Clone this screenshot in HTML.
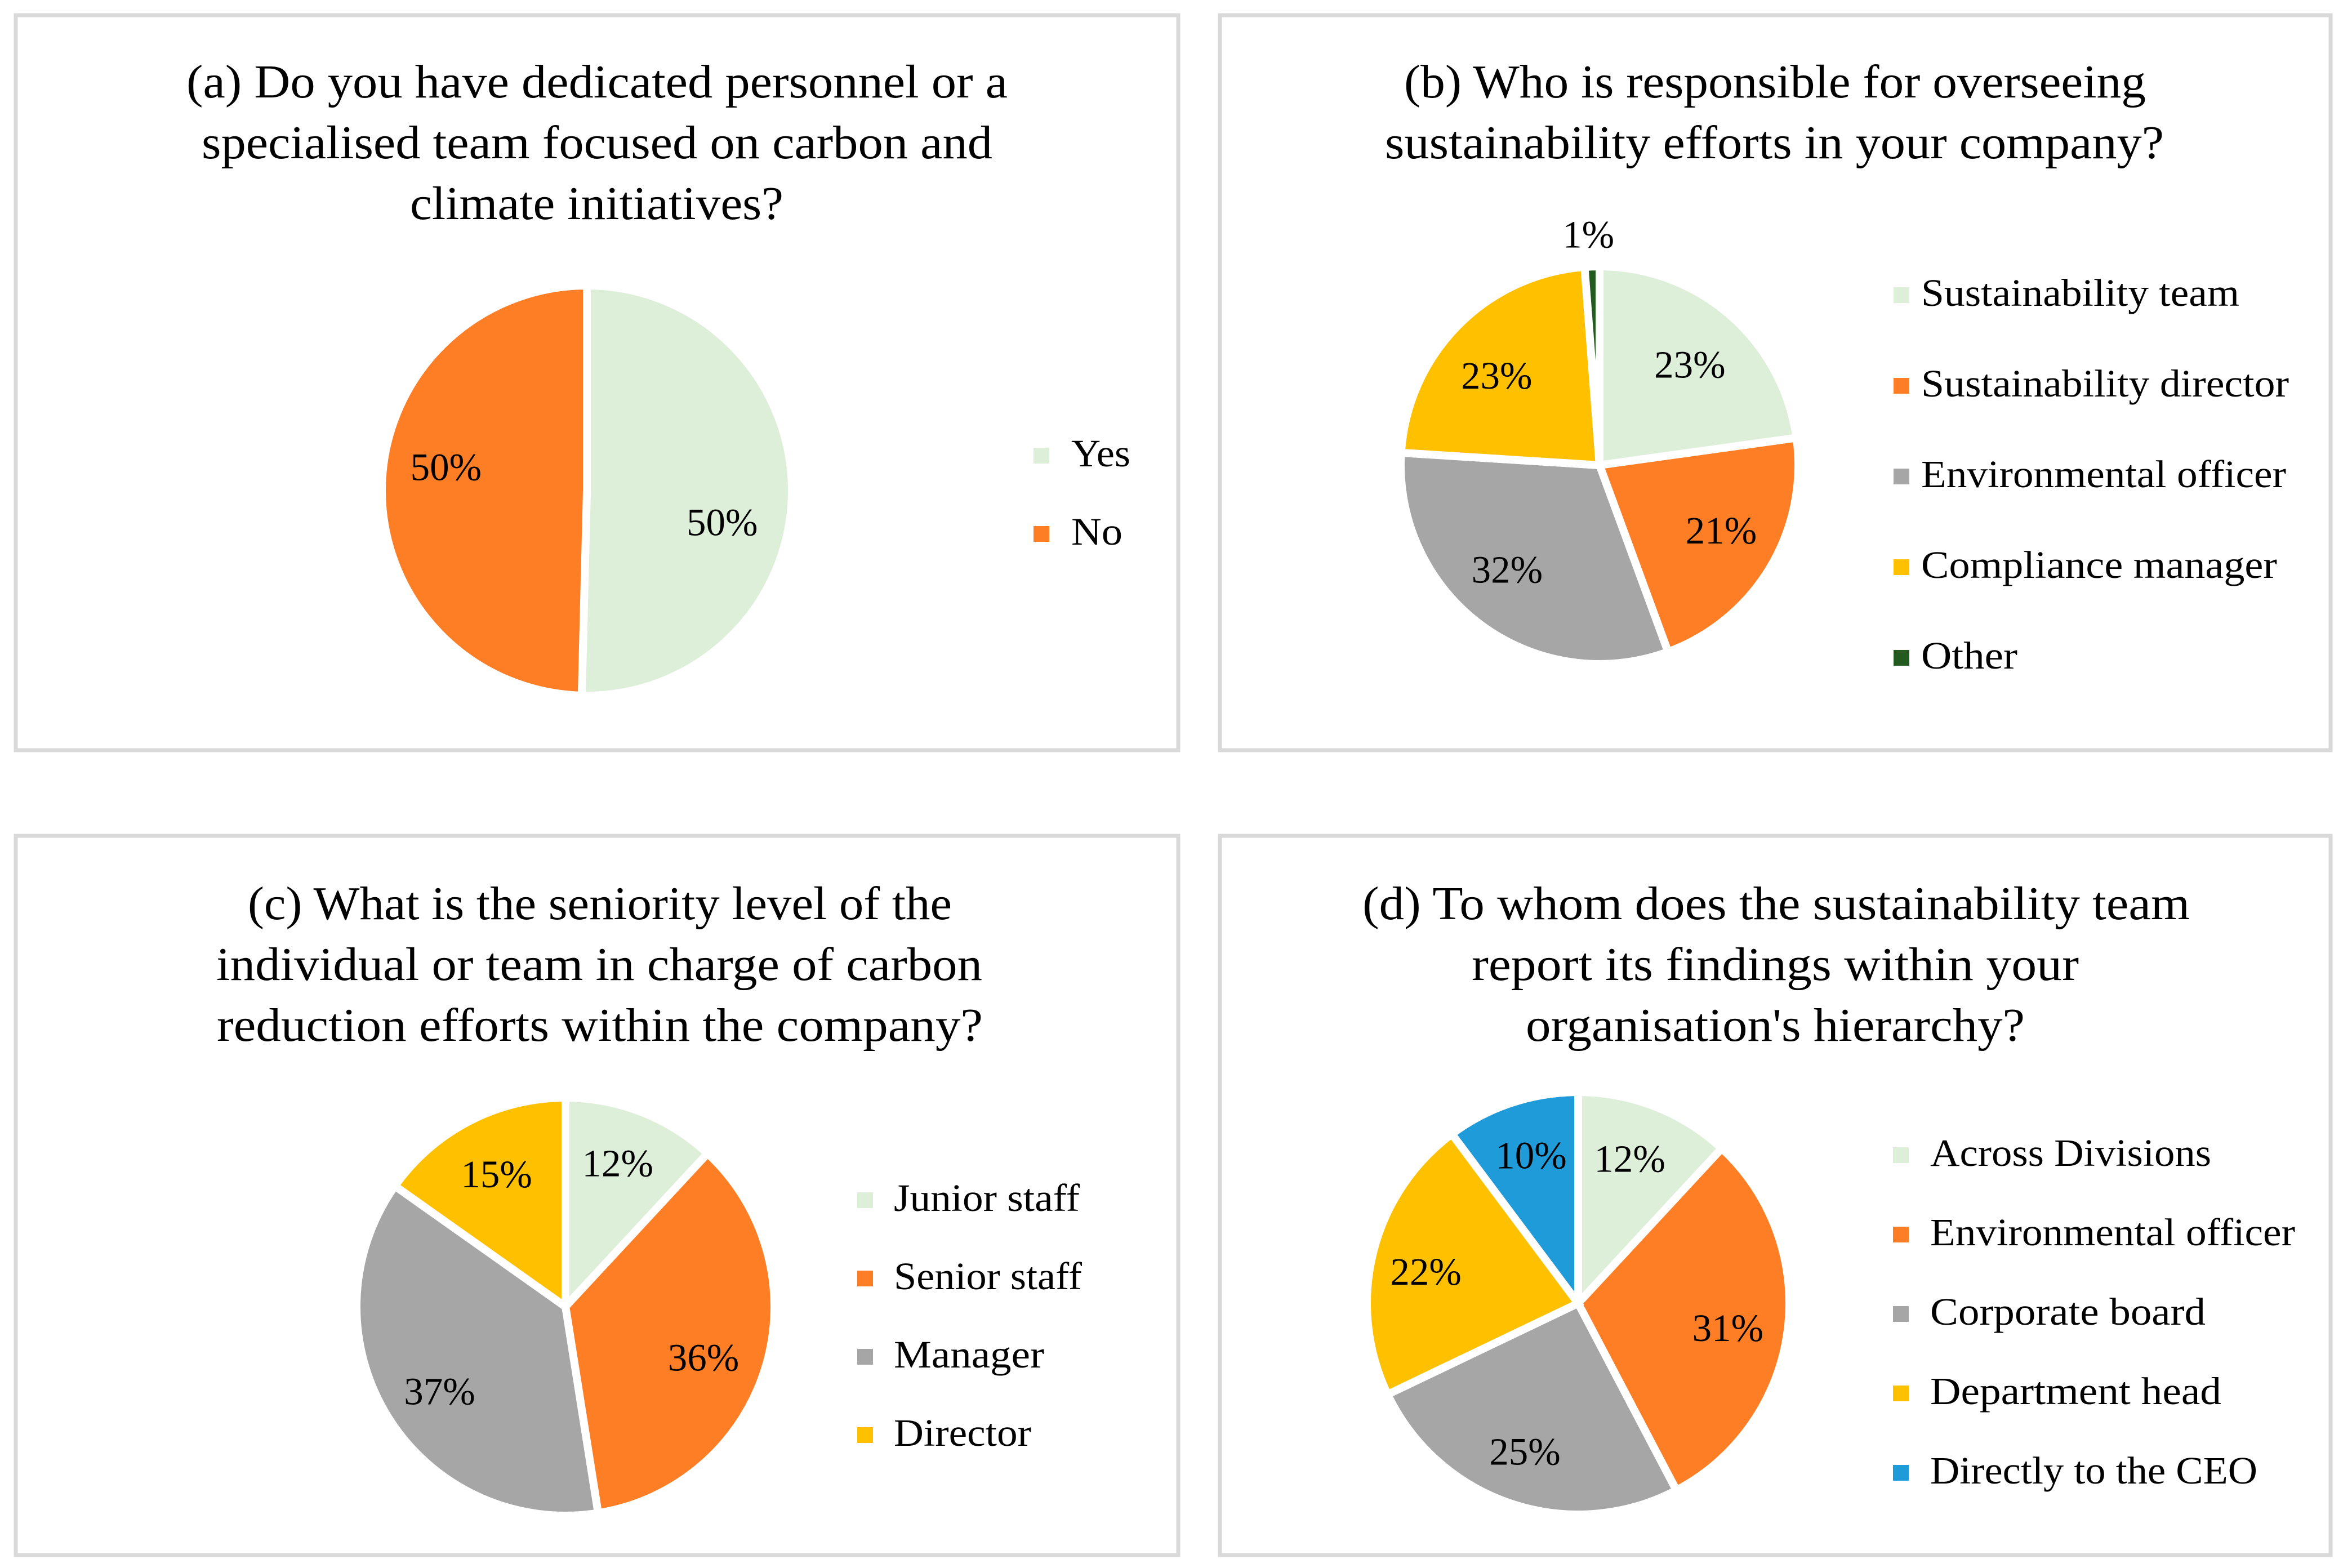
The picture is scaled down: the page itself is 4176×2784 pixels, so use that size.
<!DOCTYPE html>
<html lang="en">
<head>
<meta charset="utf-8">
<title>Carbon and sustainability governance survey</title>
<style>
html,body{margin:0;padding:0;background:#fff;}
svg{display:block;}
text{font-family:"Liberation Serif",serif;fill:#000;}
.title{font-size:84px;}
.legend-text,.pct{font-size:69px;}
.pct{text-anchor:middle;}
.panel{fill:#fff;stroke:#d9d9d9;stroke-width:7;}
</style>
</head>
<body>
<svg id="fig" xmlns="http://www.w3.org/2000/svg" width="4176" height="2784" viewBox="0 0 4176 2784">
  <rect width="4176" height="2784" fill="#fff"/>

  <g id="panel-a">
    <rect class="panel" x="28" y="27" width="2064" height="1305"/>
    <g>
      <text class="title" x="331" y="173" textLength="1458" lengthAdjust="spacingAndGlyphs">(a) Do you have dedicated personnel or a</text>
      <text class="title" x="358" y="281" textLength="1404" lengthAdjust="spacingAndGlyphs">specialised team focused on carbon and</text>
      <text class="title" x="728" y="389" textLength="663" lengthAdjust="spacingAndGlyphs">climate initiatives?</text>
    </g>
  </g>

  <g id="panel-b">
    <rect class="panel" x="2166" y="27" width="1972" height="1305"/>
    <g>
      <text class="title" x="2493" y="173" textLength="1317" lengthAdjust="spacingAndGlyphs">(b) Who is responsible for overseeing</text>
      <text class="title" x="2459" y="281" textLength="1383" lengthAdjust="spacingAndGlyphs">sustainability efforts in your company?</text>
    </g>
  </g>

  <g id="panel-c">
    <rect class="panel" x="28" y="1484" width="2064" height="1277"/>
    <g>
      <text class="title" x="440" y="1632" textLength="1250" lengthAdjust="spacingAndGlyphs">(c) What is the seniority level of the</text>
      <text class="title" x="384" y="1740" textLength="1360" lengthAdjust="spacingAndGlyphs">individual or team in charge of carbon</text>
      <text class="title" x="385" y="1848" textLength="1360" lengthAdjust="spacingAndGlyphs">reduction efforts within the company?</text>
    </g>
  </g>

  <g id="panel-d">
    <rect class="panel" x="2166" y="1484" width="1972" height="1277"/>
    <g>
      <text class="title" x="2419" y="1632" textLength="1469" lengthAdjust="spacingAndGlyphs">(d) To whom does the sustainability team</text>
      <text class="title" x="2613" y="1740" textLength="1078" lengthAdjust="spacingAndGlyphs">report its findings within your</text>
      <text class="title" x="2709" y="1848" textLength="886" lengthAdjust="spacingAndGlyphs">organisation's hierarchy?</text>
    </g>
  </g>
</svg>

<script>
// ---- Chart data ----
const categoriesA = ['Yes', 'No'];
const valuesA = [50.4, 49.6];
const printedA = ['50%', '50%'];

const categoriesB = ['Sustainability team', 'Sustainability director', 'Environmental officer', 'Compliance manager', 'Other'];
const valuesB = [22.8, 21.6, 31.6, 22.8, 1.2];
const printedB = ['23%', '21%', '32%', '23%', '1%'];

const categoriesC = ['Junior staff', 'Senior staff', 'Manager', 'Director'];
const valuesC = [11.9, 35.6, 37.3, 15.2];
const printedC = ['12%', '36%', '37%', '15%'];

const categoriesD = ['Across Divisions', 'Environmental officer', 'Corporate board', 'Department head', 'Directly to the CEO'];
const valuesD = [11.9, 30.4, 25.6, 21.9, 10.2];
const printedD = ['12%', '31%', '25%', '22%', '10%'];

// ---- Appearance ----
const paletteB = ['#ddefd9', '#fe7e26', '#a6a6a6', '#ffc000', '#225a1f'];
const paletteD = ['#ddefd9', '#fe7e26', '#a6a6a6', '#ffc000', '#1f9bd9'];

// ---- Panel layout (label nudges are offsets from each slice's default label anchor) ----
const panelLayouts = [
  { id: 'a', cats: categoriesA, vals: valuesA, printed: printedA, colors: paletteB,
    cx: 1042, cy: 871, r: 357,
    nudges: [[26, 54], [-36, -39]],
    swatchX: 1835, textX: 1902, legendY0: 809, legendStep: 139,
    legendW: [105, 91] },
  { id: 'b', cats: categoriesB, vals: valuesB, printed: printedB, colors: paletteB,
    cx: 2840, cy: 826, r: 346,
    nudges: [[24, -22], [38, 9], [-40, 19], [-35, -13], [-12, -202]],
    swatchX: 3362, textX: 3411, legendY0: 524, legendStep: 161,
    legendW: [565, 653, 648, 632, 171] },
  { id: 'c', cats: categoriesC, vals: valuesC, printed: printedC, colors: paletteB,
    cx: 1004, cy: 2320, r: 364,
    nudges: [[13, -51], [36, 27], [-38, 35], [-22, -41]],
    swatchX: 1522, textX: 1587, legendY0: 2131, legendStep: 139,
    legendW: [330, 334, 267, 244] },
  { id: 'd', cats: categoriesD, vals: valuesD, printed: printedD, colors: paletteD,
    cx: 2802, cy: 2314, r: 368,
    nudges: [[11, -51], [47, 15], [-25, 54], [-56, -3], [-14, -53]],
    swatchX: 3361, textX: 3427, legendY0: 2051, legendStep: 141,
    legendW: [499, 648, 489, 517, 581] }
];

const SVGNS = 'http://www.w3.org/2000/svg';
const GAP = 14;
const slug = s => s.toLowerCase().replace(/[^a-z0-9]+/g, '-');
const polar = (p, radius, deg) => {
  const t = deg * Math.PI / 180;
  return [p.cx + radius * Math.sin(t), p.cy - radius * Math.cos(t)];
};

panelLayouts.forEach(p => {
  const host = document.getElementById('panel-' + p.id);
  const total = p.vals.reduce((a, b) => a + b, 0);
  const scale = v => v / total * 360;

  const pie = document.createElementNS(SVGNS, 'g');
  
  
  host.appendChild(pie);

  const legend = document.createElementNS(SVGNS, 'g');
  
  
  host.appendChild(legend);

  const labelLayer = [];
  let angle = 0;
  p.vals.forEach((v, i) => {
    const sweep = scale(v);
    const outer = p.r + GAP / 2;
    const a0 = polar(p, outer, angle);
    const a1 = polar(p, outer, angle + sweep);
    const large = sweep > 180 ? 1 : 0;

    const path = document.createElementNS(SVGNS, 'path');
    path.setAttribute('d', 'M' + p.cx + ' ' + p.cy + 'L' + a0[0] + ' ' + a0[1] + 'A' + outer + ' ' + outer + ' 0 ' + large + ' 1 ' + a1[0] + ' ' + a1[1] + 'Z');
    path.setAttribute('fill', p.colors[i]);
    path.setAttribute('stroke', '#fff');
    path.setAttribute('stroke-width', GAP);
    path.setAttribute('stroke-linejoin', 'miter');
    
    
    pie.appendChild(path);

    const anchor = polar(p, p.r * 0.6, angle + sweep / 2);
    labelLayer.push({
      x: anchor[0] + p.nudges[i][0],
      y: anchor[1] + p.nudges[i][1] + 23,
      text: p.printed[i],
      cat: p.cats[i]
    });
    angle += sweep;

    const cy = p.legendY0 + i * p.legendStep;
    const sw = document.createElementNS(SVGNS, 'rect');
    sw.setAttribute('x', p.swatchX);
    sw.setAttribute('y', cy - 14);
    sw.setAttribute('width', 28);
    sw.setAttribute('height', 28);
    sw.setAttribute('fill', p.colors[i]);
    
    
    legend.appendChild(sw);

    const lt = document.createElementNS(SVGNS, 'text');
    lt.setAttribute('class', 'legend-text');
    lt.setAttribute('x', p.textX);
    lt.setAttribute('y', cy + 19);
    lt.setAttribute('textLength', p.legendW[i]);
    lt.setAttribute('lengthAdjust', 'spacingAndGlyphs');
    lt.textContent = p.cats[i];
    
    
    legend.appendChild(lt);
  });

  labelLayer.forEach(l => {
    const t = document.createElementNS(SVGNS, 'text');
    t.setAttribute('class', 'pct');
    t.setAttribute('x', l.x);
    t.setAttribute('y', l.y);
    t.textContent = l.text;
    
    
    pie.appendChild(t);
  });
});
</script>
</body>
</html>
